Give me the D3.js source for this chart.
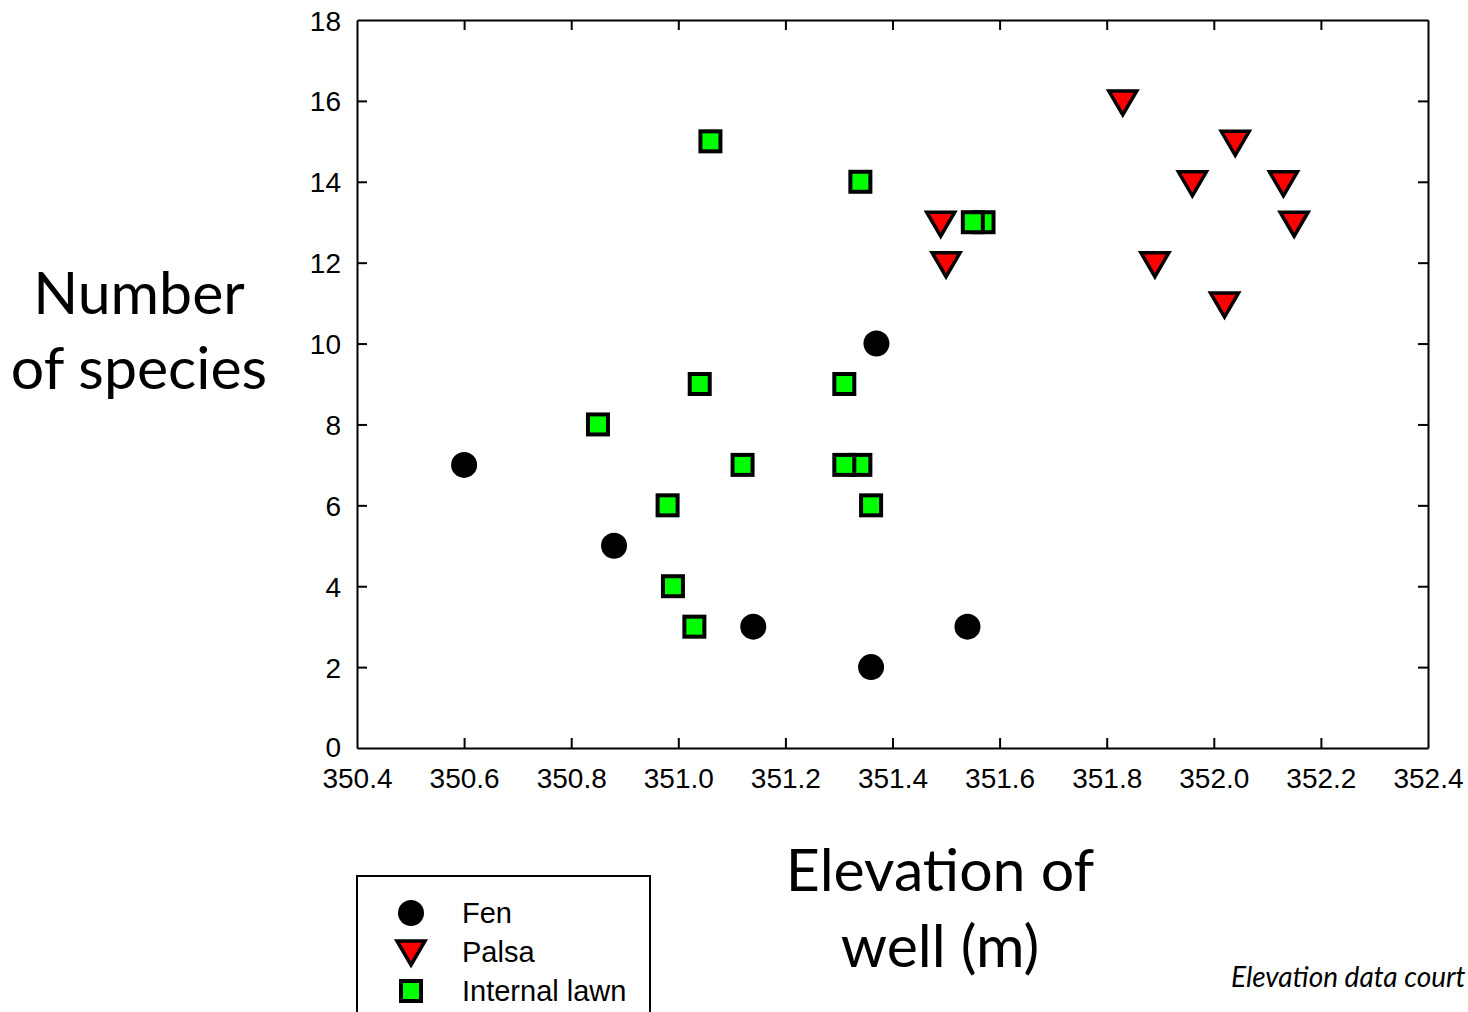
<!DOCTYPE html>
<html><head><meta charset="utf-8">
<script src="https://cdn.jsdelivr.net/npm/d3@7"></script>
<style>body{margin:0;background:#fff}</style>
</head><body>
<svg id="c" width="1468" height="1012"></svg>
<script>
const fenX = [350.60, 350.88, 351.14, 351.36, 351.37, 351.54];
const fenY = [7, 5, 3, 2, 10, 3];
const palsaX = [351.83, 352.04, 351.96, 352.13, 351.49, 352.15, 351.50, 351.89, 352.02];
const palsaY = [16, 15, 14, 14, 13, 13, 12, 12, 11];
const lawnX = [351.06, 351.34, 351.57, 351.55, 351.04, 351.31, 350.85, 351.12, 351.34, 351.31, 350.98, 351.36, 350.99, 351.03];
const lawnY = [15, 14, 13, 13, 9, 9, 8, 7, 7, 7, 6, 6, 4, 3];
const xTicks = [350.4, 350.6, 350.8, 351.0, 351.2, 351.4, 351.6, 351.8, 352.0, 352.2, 352.4];
const yTicks = [0, 2, 4, 6, 8, 10, 12, 14, 16, 18];
const legendLabels = ["Fen", "Palsa", "Internal lawn"];

const svg = d3.select("#c");
const L = 357, R = 1428, T = 20, B = 748;
const x = d3.scaleLinear().domain([350.4, 352.4]).range([L, R]);
const y = d3.scaleLinear().domain([0, 18]).range([B, T]);
const tickFont = "Liberation Sans, Arial, sans-serif";

// axes
const fmtX = d3.format(".1f");
const gB = svg.append("g").attr("transform", `translate(0,${B})`)
  .call(d3.axisBottom(x).tickValues(xTicks).tickFormat(fmtX).tickSizeInner(-10).tickSizeOuter(0).tickPadding(20));
const gT = svg.append("g").attr("transform", `translate(0,${T})`)
  .call(d3.axisTop(x).tickValues(xTicks).tickFormat("").tickSizeInner(-10).tickSizeOuter(0));
const gL = svg.append("g").attr("transform", `translate(${L},0)`)
  .call(d3.axisLeft(y).tickValues(yTicks).tickSizeInner(-10).tickSizeOuter(0).tickPadding(16));
const gR = svg.append("g").attr("transform", `translate(${R},0)`)
  .call(d3.axisRight(y).tickValues(yTicks).tickFormat("").tickSizeInner(-10).tickSizeOuter(0));
[gB, gT, gL, gR].forEach(g => {
  g.selectAll("path.domain").attr("stroke", "#000").attr("stroke-width", 2);
  g.selectAll(".tick line").attr("stroke", "#000").attr("stroke-width", 2);
  g.selectAll("text").attr("font-family", tickFont).attr("font-size", 28).attr("fill", "#000");
});
gB.selectAll(".tick").filter(d => d === 350.4 || d === 352.4).select("line").remove();
gT.selectAll(".tick").filter(d => d === 350.4 || d === 352.4).remove();
gL.selectAll(".tick").filter(d => d === 0 || d === 18).select("line").remove();
gR.selectAll(".tick").filter(d => d === 0 || d === 18).remove();
gL.selectAll("text").attr("dy", "0.36em");
gL.selectAll(".tick").filter(d => d === 0).select("text").attr("dy", "0.3em");

// symbols
const plot = svg.append("g");
const triPath = (cx, cy) => `M${cx-14},${cy-10} L${cx+14},${cy-10} L${cx},${cy+14} Z`;
const fen = fenX.map((v, i) => ({x: v, y: fenY[i]}));
const palsa = palsaX.map((v, i) => ({x: v, y: palsaY[i]}));
const lawn = lawnX.map((v, i) => ({x: v, y: lawnY[i]}));

plot.selectAll("circle.fen").data(fen).join("circle")
  .attr("cx", d => x(d.x)).attr("cy", d => y(d.y)).attr("r", 13).attr("fill", "#000");
plot.selectAll("path.palsa").data(palsa).join("path")
  .attr("d", d => triPath(x(d.x), y(d.y)))
  .attr("fill", "#ff0000").attr("stroke", "#000").attr("stroke-width", 3.5).attr("stroke-linejoin", "miter");
plot.selectAll("rect.lawn").data(lawn).join("rect")
  .attr("x", d => x(d.x) - 10).attr("y", d => y(d.y) - 10).attr("width", 20).attr("height", 20)
  .attr("fill", "#00ff00").attr("stroke", "#000").attr("stroke-width", 4);

// axis titles
const titleFont = "Lato, 'Open Sans', sans-serif";
const yt = svg.append("text").attr("font-family", titleFont).attr("font-size", 59).attr("text-anchor", "middle").attr("fill", "#000");
yt.append("tspan").attr("x", 139).attr("y", 314).text("Number");
yt.append("tspan").attr("x", 139).attr("y", 389).text("of species");
const xt = svg.append("text").attr("font-family", titleFont).attr("font-size", 59).attr("text-anchor", "middle").attr("fill", "#000");
xt.append("tspan").attr("x", 940).attr("y", 891).text("Elevation of");
xt.append("tspan").attr("x", 940).attr("y", 967).text("well (m)");

svg.append("text").attr("x", 1231).attr("y", 987).attr("font-family", titleFont)
  .attr("font-style", "italic").attr("font-size", 28).attr("fill", "#000").text("Elevation data court");

// legend
svg.append("rect").attr("x", 357).attr("y", 876).attr("width", 293).attr("height", 160)
  .attr("fill", "none").attr("stroke", "#000").attr("stroke-width", 2);
const lg = svg.append("g");
const ly = [913, 952, 991];
lg.append("circle").attr("cx", 411).attr("cy", ly[0]).attr("r", 13).attr("fill", "#000");
lg.append("path").attr("d", triPath(411, ly[1] - 1)).attr("fill", "#ff0000").attr("stroke", "#000").attr("stroke-width", 3.5);
lg.append("rect").attr("x", 401).attr("y", ly[2] - 10).attr("width", 20).attr("height", 20)
  .attr("fill", "#00ff00").attr("stroke", "#000").attr("stroke-width", 4);
legendLabels.forEach((t, i) => {
  lg.append("text").attr("x", 462).attr("y", ly[i]).attr("dy", "0.36em")
    .attr("font-family", tickFont).attr("font-size", 29).attr("fill", "#000").text(t);
});
</script>
</body></html>
